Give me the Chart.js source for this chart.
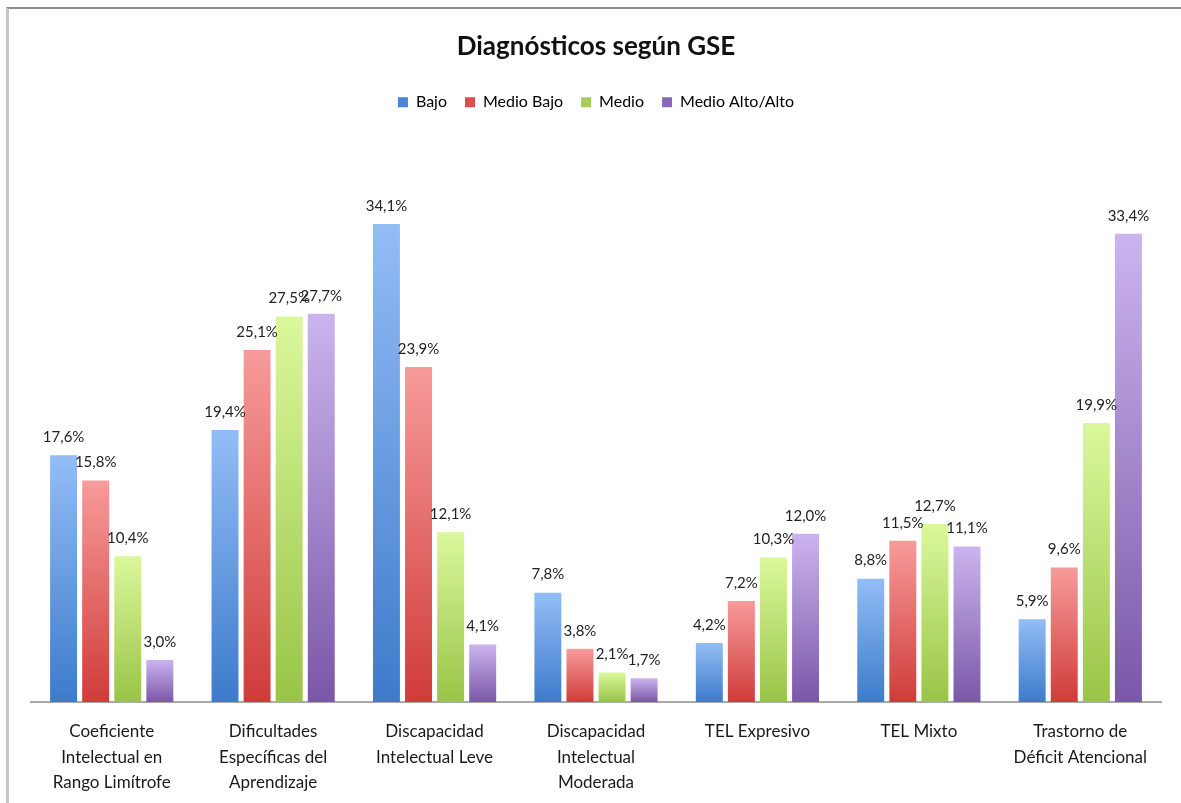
<!DOCTYPE html>
<html lang="es">
<head>
<meta charset="utf-8">
<title>Diagnósticos según GSE</title>
<script src="https://cdn.jsdelivr.net/npm/chart.js@4.4.1/dist/chart.umd.min.js"></script>
<style>
  html, body { margin:0; padding:0; background:#fff; }
  #grafica { position:absolute; left:0; top:0; }
  #marco {
    position:absolute; left:6px; top:7px; width:1175px; height:796px;
    border-top:2px solid #8c8c8c; border-left:3px solid #c6c6c6;
    box-sizing:border-box; pointer-events:none;
  }
</style>
</head>
<body>
<canvas id="grafica" width="1181" height="803"></canvas>
<div id="marco"></div>
<script>
/* Diagnósticos según GSE — barras agrupadas */

const categorias = [
  ["Coeficiente", "Intelectual en", "Rango Limítrofe"],
  ["Dificultades", "Específicas del", "Aprendizaje"],
  ["Discapacidad", "Intelectual Leve"],
  ["Discapacidad", "Intelectual", "Moderada"],
  "TEL Expresivo",
  "TEL Mixto",
  ["Trastorno de", "Déficit Atencional"]
];

const series     = ["Bajo", "Medio Bajo", "Medio", "Medio Alto/Alto"];
const bajo       = [17.6, 19.4, 34.1, 7.8, 4.2, 8.8, 5.9];
const medioBajo  = [15.8, 25.1, 23.9, 3.8, 7.2, 11.5, 9.6];
const medio      = [10.4, 27.5, 12.1, 2.1, 10.3, 12.7, 19.9];
const medioAlto  = [3.0, 27.7, 4.1, 1.7, 12.0, 11.1, 33.4];

// colores: [arriba, abajo, leyenda]
const colores = [
  ["#93bdf6", "#3d7bcb", "#4a86d6"],
  ["#f79b9a", "#cf3c3a", "#d9504e"],
  ["#dbf89c", "#99c447", "#a6cf56"],
  ["#cbb4ee", "#7a57a8", "#8a68b8"]
];

const FUENTE = "Lato, 'DejaVu Sans', sans-serif";

function fmt(v) {
  return v.toFixed(1).replace(".", ",") + "%";
}

function degradado(idx) {
  return (c) => {
    const [arriba, abajo, plano] = colores[idx];
    if (c.type !== "data" || !c.chart.chartArea) return plano;
    const y = c.chart.scales.y;
    const top = y.getPixelForValue(c.raw);
    const base = y.getPixelForValue(0);
    if (!isFinite(top) || !isFinite(base) || top === base) return plano;
    const g = c.chart.ctx.createLinearGradient(0, top, 0, base);
    g.addColorStop(0, arriba);
    g.addColorStop(1, abajo);
    return g;
  };
}

const etiquetas = {
  id: "etiquetas",
  afterDatasetsDraw(chart) {
    const ctx = chart.ctx;
    ctx.save();
    ctx.font = "15px " + FUENTE;
    ctx.fillStyle = "#222";
    ctx.textAlign = "center";
    ctx.textBaseline = "middle";
    chart.data.datasets.forEach((ds, i) => {
      chart.getDatasetMeta(i).data.forEach((bar, j) => {
        ctx.fillText(fmt(ds.data[j]), bar.x, bar.y - 18);
      });
    });
    ctx.restore();
  }
};

const valores = [bajo, medioBajo, medio, medioAlto];

new Chart(document.getElementById("grafica"), {
  type: "bar",
  data: {
    labels: categorias,
    datasets: series.map((nombre, i) => ({
      label: nombre,
      data: valores[i],
      backgroundColor: degradado(i),
      borderWidth: 0,
      categoryPercentage: 0.795,
      barPercentage: 0.84
    }))
  },
  options: {
    responsive: false,
    devicePixelRatio: 1,
    animation: false,
    layout: { padding: { top: 0, left: 31, right: 20, bottom: 0 } },
    plugins: {
      title: {
        display: true,
        text: "Diagnósticos según GSE",
        color: "#111",
        font: { family: FUENTE, size: 26, weight: "bold" },
        padding: { top: 31, bottom: 14 }
      },
      legend: {
        position: "top",
        labels: {
          boxWidth: 10, boxHeight: 10, padding: 18, color: "#222",
          font: { family: FUENTE, size: 16 },
          generateLabels(chart) {
            return chart.data.datasets.map((ds, i) => ({
              text: ds.label, fillStyle: colores[i][2], strokeStyle: colores[i][2],
              lineWidth: 0, datasetIndex: i, hidden: false
            }));
          }
        }
      },
      tooltip: { enabled: false }
    },
    scales: {
      x: {
        grid: { display: false, drawTicks: false },
        border: { display: true, color: "#a9a9a9", width: 2 },
        afterFit(s) { s.height = 101; },
        ticks: {
          color: "#1a1a1a", padding: 17, autoSkip: false, maxRotation: 0,
          font: { family: FUENTE, size: 17, lineHeight: 1.5 }
        }
      },
      y: { display: false, min: 0, max: 41.5 }
    }
  },
  plugins: [etiquetas]
});
</script>
</body>
</html>
